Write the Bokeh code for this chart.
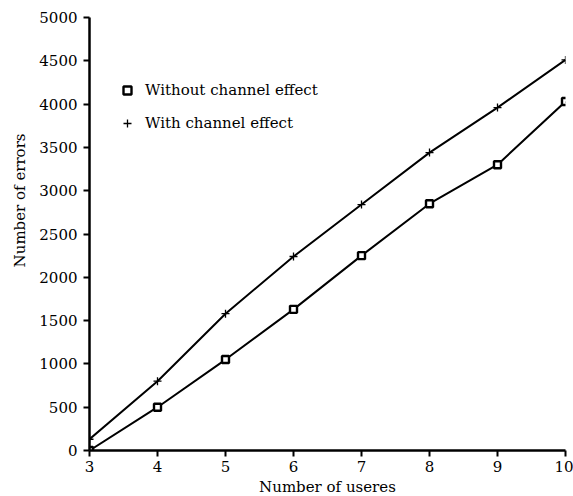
from bokeh.plotting import figure
from bokeh.models import Legend, LegendItem, Range1d, FixedTicker, Title
from bokeh.embed import file_html
from bokeh.resources import INLINE

users = [3, 4, 5, 6, 7, 8, 9, 10]
without_channel = [0, 500, 1050, 1630, 2250, 2850, 3300, 4030]
with_channel = [130, 800, 1580, 2240, 2840, 3440, 3960, 4510]
y_ticks = [0, 500, 1000, 1500, 2000, 2500, 3000, 3500, 4000, 4500, 5000]

FONT = "DejaVu Serif"
FS = "15px"

p = figure(frame_width=476, frame_height=433, output_backend="svg", toolbar_location=None,
           x_range=Range1d(3, 10), y_range=Range1d(0, 5000),
           min_border_left=89, min_border_right=8, min_border_top=17, min_border_bottom=46)
p.outline_line_color = None
p.xgrid.visible = False
p.ygrid.visible = False
p.background_fill_color = "white"
p.border_fill_color = "white"

l1 = p.line(users, without_channel, line_color="black", line_width=2)
m1 = p.scatter(users, without_channel, marker="square", size=7, line_color="black",
               line_width=2.4, fill_color="white")
l2 = p.line(users, with_channel, line_color="black", line_width=2)
m2 = p.scatter(users, with_channel, marker="cross", size=8, line_color="black", line_width=1.3)

for ax in (p.xaxis[0], p.yaxis[0]):
    ax.axis_line_color = "black"
    ax.axis_line_width = 2.5
    ax.major_tick_line_color = "black"
    ax.major_tick_line_width = 2
    ax.major_tick_out = 6
    ax.major_tick_in = 0
    ax.minor_tick_line_color = None
    ax.major_label_text_font = FONT
    ax.major_label_text_font_size = FS
    ax.major_label_text_color = "black"
    ax.axis_label_text_font = FONT
    ax.axis_label_text_font_size = FS
    ax.axis_label_text_font_style = "normal"
    ax.axis_label_text_color = "black"

p.xaxis.ticker = FixedTicker(ticks=users)
p.yaxis.ticker = FixedTicker(ticks=y_ticks)
p.xaxis.axis_label = "Number of useres"
p.xaxis.major_label_standoff = 4
p.yaxis.major_label_standoff = 6
p.xaxis.axis_label_standoff = 3

ytitle = Title(text="Number of errors", align="right", offset=116, standoff=15,
               text_font=FONT, text_font_size=FS, text_font_style="normal",
               text_color="black")
p.add_layout(ytitle, "left")

legend = Legend(items=[LegendItem(label="Without channel effect", renderers=[m1]),
                       LegendItem(label="With channel effect", renderers=[m2])],
                location=(28, 317), border_line_color=None, background_fill_alpha=0,
                padding=0, spacing=13, label_height=20, glyph_height=20, glyph_width=20,
                label_standoff=8, label_text_font=FONT, label_text_font_size=FS,
                label_text_color="black", margin=0)
p.add_layout(legend)

open("out.html", "w").write(file_html(p, INLINE))
